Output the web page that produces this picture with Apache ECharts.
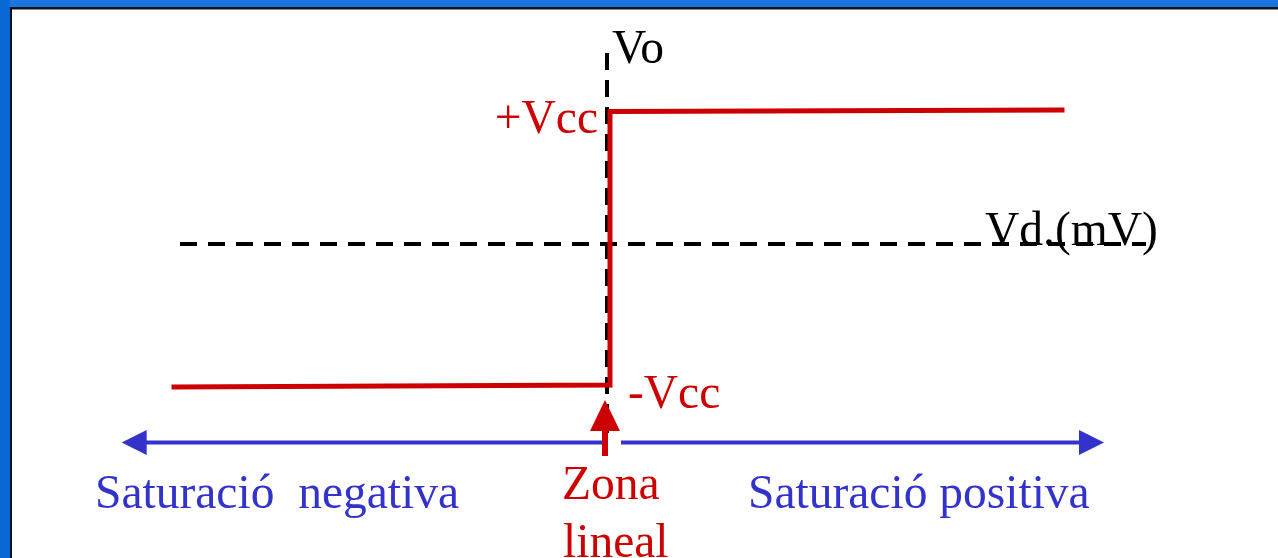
<!DOCTYPE html>
<html>
<head>
<meta charset="utf-8">
<title>Vo - Vd</title>
<script src="https://cdn.jsdelivr.net/npm/echarts@6/dist/echarts.min.js"></script>
<style>
    html, body { margin: 0; padding: 0; background: #fff; }
    #main { width: 1278px; height: 558px; }
</style>
</head>
<body>
<div id="main"></div>
<script>
    'use strict';

    // transfer curve Vo(Vd): x in Vd units, y in Vo units
    var curveVd = [-4.36, 0, 0, 4.52];
    var curveVo = [-14.3, -14.1, 13.25, 13.4];

    // dashed axes
    var vdAxisX = [-4.30, 5.36];   // horizontal axis, at Vo = 0
    var voAxisX = -0.03;
    var voAxisY = [19.1, -18.9];   // vertical axis, at Vd = 0

    // red arrow "zona lineal" (from, tip)
    var zonaX = -0.05;
    var zonaY = [-21.2, -15.6];

    // blue arrows (start, tip)
    var satY = -19.85;
    var satNegX = [-0.05, -4.883];
    var satPosX = [0.11, 4.94];

    // texts
    var labels = {
        vo: 'Vo',
        vd: 'Vd.(mV)',
        vccPos: '+Vcc',
        vccNeg: '-Vcc',
        zona: 'Zona',
        lineal: 'lineal',
        satNeg: 'Saturació  negativa',
        satPos: 'Saturació positiva'
    };

    var red = '#cc0000';
    var blue = '#3333cc';
    var font = '47.5px "Liberation Serif", "DejaVu Serif", serif';

    function pairs(xs, ys) {
        var out = [];
        for (var i = 0; i < xs.length; i++) {
            out.push([xs[i], ys[i]]);
        }
        return out;
    }

    function txt(text, x, y, color, align) {
        return {
            type: 'text',
            x: x,
            y: y,
            z: 10,
            style: {
                text: text,
                font: font,
                fill: color,
                align: align || 'left',
                verticalAlign: 'middle'
            }
        };
    }

    var mychart = echarts.init(document.getElementById('main'));

    var option = {
        animation: false,
        backgroundColor: '#fff',
        grid: { left: 10, right: 68, top: 4, bottom: 4 },
        xAxis: { type: 'value', min: -6, max: 6, show: false },
        yAxis: { type: 'value', min: -31, max: 24, show: false },
        // marco + textos
        graphic: [
            { type: 'rect', shape: { x: 0, y: 0, width: 1278, height: 8 }, style: { fill: '#1876dc' } },
            { type: 'rect', shape: { x: 0, y: 0, width: 10, height: 558 }, style: { fill: '#0a68d4' } },
            { type: 'rect', shape: { x: 10, y: 7, width: 1268, height: 2 }, style: { fill: '#111' } },
            { type: 'rect', shape: { x: 10, y: 7, width: 2, height: 551 }, style: { fill: '#111' } },
            { type: 'rect', shape: { x: 12, y: 9, width: 1266, height: 1 }, style: { fill: '#888' } },
            txt(labels.vo, 612, 51, '#000'),
            txt(labels.vccPos, 598, 121, red, 'right'),
            txt(labels.vccNeg, 628, 396, red),
            txt(labels.vd, 985, 233, '#000'),
            txt(labels.zona, 562, 487, red),
            txt(labels.lineal, 563, 545, red),
            txt(labels.satNeg, 95, 496, blue),
            txt(labels.satPos, 748, 496, blue)
        ],
        series: [
            // eje Vd
            {
                type: 'line',
                data: [[vdAxisX[0], 0], [vdAxisX[1], 0]],
                showSymbol: false,
                silent: true,
                lineStyle: { color: '#000', width: 4, type: [17, 11] },
                z: 1
            },
            // eje Vo
            {
                type: 'line',
                data: [[voAxisX, voAxisY[0]], [voAxisX, voAxisY[1]]],
                showSymbol: false,
                silent: true,
                lineStyle: { color: '#000', width: 4, type: [17, 10] },
                z: 1
            },
            // curva
            {
                type: 'line',
                data: pairs(curveVd, curveVo),
                showSymbol: false,
                silent: true,
                lineStyle: { color: red, width: 5, join: 'miter', cap: 'square' },
                z: 3
            },
            // flechas azules
            {
                type: 'line',
                data: [[satNegX[0], satY], [satNegX[1] + 0.1, satY]],
                showSymbol: false,
                silent: true,
                lineStyle: { color: blue, width: 4 },
                z: 2
            },
            {
                type: 'line',
                data: [[satPosX[0], satY], [satPosX[1] - 0.1, satY]],
                showSymbol: false,
                silent: true,
                lineStyle: { color: blue, width: 4 },
                z: 2
            },
            {
                type: 'scatter',
                data: [[satNegX[1], satY]],
                symbol: 'triangle',
                symbolSize: [25, 25],
                symbolRotate: 90,
                symbolOffset: [12.5, 0],
                itemStyle: { color: blue, opacity: 1 },
                silent: true,
                z: 2
            },
            {
                type: 'scatter',
                data: [[satPosX[1], satY]],
                symbol: 'triangle',
                symbolSize: [25, 25],
                symbolRotate: -90,
                symbolOffset: [-12.5, 0],
                itemStyle: { color: blue, opacity: 1 },
                silent: true,
                z: 2
            },
            // flecha roja
            {
                type: 'line',
                data: [[zonaX, zonaY[0]], [zonaX, zonaY[1] - 1]],
                showSymbol: false,
                silent: true,
                lineStyle: { color: red, width: 6 },
                z: 4
            },
            {
                type: 'scatter',
                data: [[zonaX, zonaY[1]]],
                symbol: 'triangle',
                symbolSize: [30, 31],
                symbolOffset: [0, 15.5],
                itemStyle: { color: red, opacity: 1 },
                silent: true,
                z: 4
            }
        ]
    };

    mychart.setOption(option);
</script>
</body>
</html>
